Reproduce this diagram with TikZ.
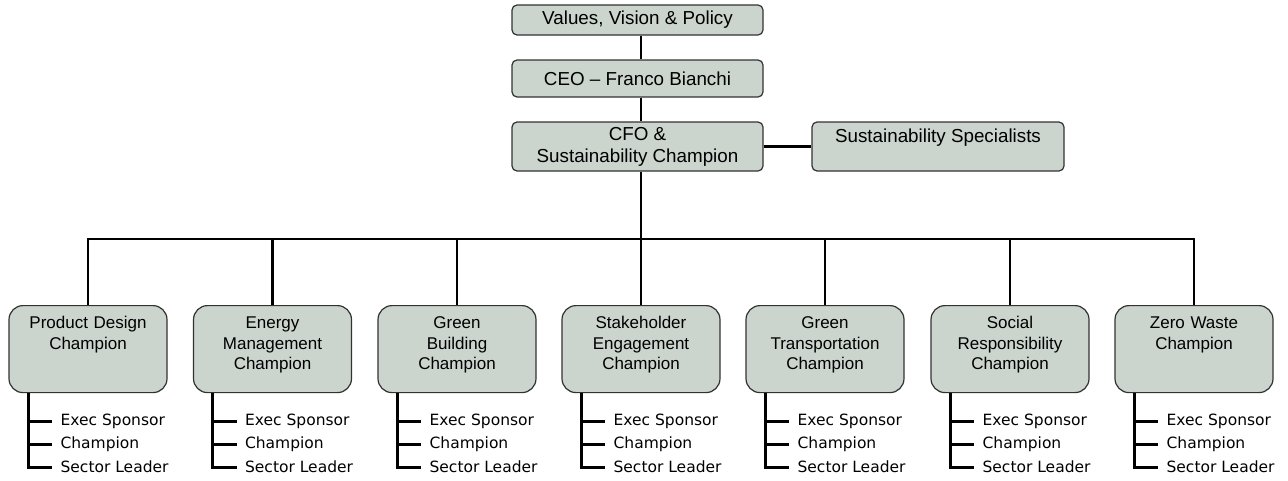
\documentclass[tikz,border=0pt]{standalone}
\usepackage{fontspec}
\setmainfont{Liberation Sans}
\newfontfamily\listfont{DejaVu Sans}
\definecolor{boxfill}{RGB}{203,212,205}
\definecolor{boxline}{RGB}{50,50,50}
\tikzset{
  topbox/.style={draw=boxline, line width=1.2pt, fill=boxfill, rounded corners=5pt, minimum width=251pt, inner sep=0pt, font=\fontsize{18.8}{22}\selectfont, align=center},
  champbox/.style={draw=boxline, line width=1.2pt, fill=boxfill, rounded corners=14pt, anchor=north, text width=150pt, align=center, inner xsep=4pt, inner ysep=8pt, text height=15pt, text depth=56pt, font=\fontsize{17}{20.5}\selectfont},
  item/.style={anchor=west, inner xsep=8pt, inner ysep=1pt, font=\listfont\fontsize{15.5}{18}\selectfont},
  link/.style={line width=2.3pt},
  sub/.style={line width=3pt}
}
\begin{document}
\begin{tikzpicture}[x=1pt,y=-1pt]
				\useasboundingbox (0,0) rectangle (1288,480);
				
				\node[topbox, minimum height=30pt] (values) at (637.5,20) {Values, Vision \& Policy};
				\node[topbox, minimum height=37pt] (ceo) at (637.5,78.5) {CEO -- Franco Bianchi};
				\node[topbox, minimum height=49pt] (cfo) at (637.5,146.5) {CFO \&\\Sustainability Champion};
				\node[topbox, minimum width=252pt, minimum height=49pt] (spec) at (938,146.5) {Sustainability Specialists\\\mbox{}};
				
				\draw[link] (values.south -| 641,0) -- (ceo.north -| 641,0);
				\draw[link] (ceo.south -| 641,0) -- (cfo.north -| 641,0);
				\draw[link] (cfo.east) -- (spec.west);
				
				\node[champbox] (pd) at (88,305) {Product Design\\Champion};
				\node[champbox] (em) at (272.5,305) {Energy\\Management\\Champion};
				\node[champbox] (gb) at (457,305) {Green\\Building\\Champion};
				\node[champbox] (se) at (641,305) {Stakeholder\\Engagement\\Champion};
				\node[champbox] (gt) at (825,305) {Green\\Transportation\\Champion};
				\node[champbox] (sr) at (1010,305) {Social\\Responsibility\\Champion};
				\node[champbox] (zw) at (1194,305) {Zero Waste\\Champion};
				
				\coordinate (bus) at (641,239);
				\draw[link] (cfo.south -| bus) -- (bus);
				\draw[link] (pd.north) -- (pd.north |- bus) -- (zw.north |- bus) -- (zw.north);
				\draw[link] (em.north) -- (em.north |- bus);
				\draw[link] (gb.north) -- (gb.north |- bus);
				\draw[link] (se.north) -- (se.north |- bus);
				\draw[link] (gt.north) -- (gt.north |- bus);
				\draw[link] (sr.north) -- (sr.north |- bus);
				
				% sponsor lists
				\node[item] (pd1) at ([xshift=44pt]pd.south west |- 0,421) {Exec Sponsor};
				\node[item] (pd2) at ([xshift=44pt]pd.south west |- 0,444) {Champion};
				\node[item] (pd3) at ([xshift=44pt]pd.south west |- 0,467) {Sector Leader};
				\node[item] (em1) at ([xshift=44pt]em.south west |- 0,421) {Exec Sponsor};
				\node[item] (em2) at ([xshift=44pt]em.south west |- 0,444) {Champion};
				\node[item] (em3) at ([xshift=44pt]em.south west |- 0,467) {Sector Leader};
				\node[item] (gb1) at ([xshift=44pt]gb.south west |- 0,421) {Exec Sponsor};
				\node[item] (gb2) at ([xshift=44pt]gb.south west |- 0,444) {Champion};
				\node[item] (gb3) at ([xshift=44pt]gb.south west |- 0,467) {Sector Leader};
				\node[item] (se1) at ([xshift=44pt]se.south west |- 0,421) {Exec Sponsor};
				\node[item] (se2) at ([xshift=44pt]se.south west |- 0,444) {Champion};
				\node[item] (se3) at ([xshift=44pt]se.south west |- 0,467) {Sector Leader};
				\node[item] (gt1) at ([xshift=44pt]gt.south west |- 0,421) {Exec Sponsor};
				\node[item] (gt2) at ([xshift=44pt]gt.south west |- 0,444) {Champion};
				\node[item] (gt3) at ([xshift=44pt]gt.south west |- 0,467) {Sector Leader};
				\node[item] (sr1) at ([xshift=44pt]sr.south west |- 0,421) {Exec Sponsor};
				\node[item] (sr2) at ([xshift=44pt]sr.south west |- 0,444) {Champion};
				\node[item] (sr3) at ([xshift=44pt]sr.south west |- 0,467) {Sector Leader};
				\node[item] (zw1) at ([xshift=44pt]zw.south west |- 0,421) {Exec Sponsor};
				\node[item] (zw2) at ([xshift=44pt]zw.south west |- 0,444) {Champion};
				\node[item] (zw3) at ([xshift=44pt]zw.south west |- 0,467) {Sector Leader};
				
				\coordinate (pdt) at ([xshift=20pt]pd.south west);
				\coordinate (emt) at ([xshift=20pt]em.south west);
				\coordinate (gbt) at ([xshift=20pt]gb.south west);
				\coordinate (set) at ([xshift=20pt]se.south west);
				\coordinate (gtt) at ([xshift=20pt]gt.south west);
				\coordinate (srt) at ([xshift=20pt]sr.south west);
				\coordinate (zwt) at ([xshift=20pt]zw.south west);
				
				\draw[sub] (pdt) |- (pd3.west); \draw[sub] (pdt |- pd1.west) -- (pd1.west); \draw[sub] (pdt |- pd2.west) -- (pd2.west);
				\draw[sub] (emt) |- (em3.west); \draw[sub] (emt |- em1.west) -- (em1.west); \draw[sub] (emt |- em2.west) -- (em2.west);
				\draw[sub] (gbt) |- (gb3.west); \draw[sub] (gbt |- gb1.west) -- (gb1.west); \draw[sub] (gbt |- gb2.west) -- (gb2.west);
				\draw[sub] (set) |- (se3.west); \draw[sub] (set |- se1.west) -- (se1.west); \draw[sub] (set |- se2.west) -- (se2.west);
				\draw[sub] (gtt) |- (gt3.west); \draw[sub] (gtt |- gt1.west) -- (gt1.west); \draw[sub] (gtt |- gt2.west) -- (gt2.west);
				\draw[sub] (srt) |- (sr3.west); \draw[sub] (srt |- sr1.west) -- (sr1.west); \draw[sub] (srt |- sr2.west) -- (sr2.west);
				\draw[sub] (zwt) |- (zw3.west); \draw[sub] (zwt |- zw1.west) -- (zw1.west); \draw[sub] (zwt |- zw2.west) -- (zw2.west);
				
			\end{tikzpicture}
\end{document}
